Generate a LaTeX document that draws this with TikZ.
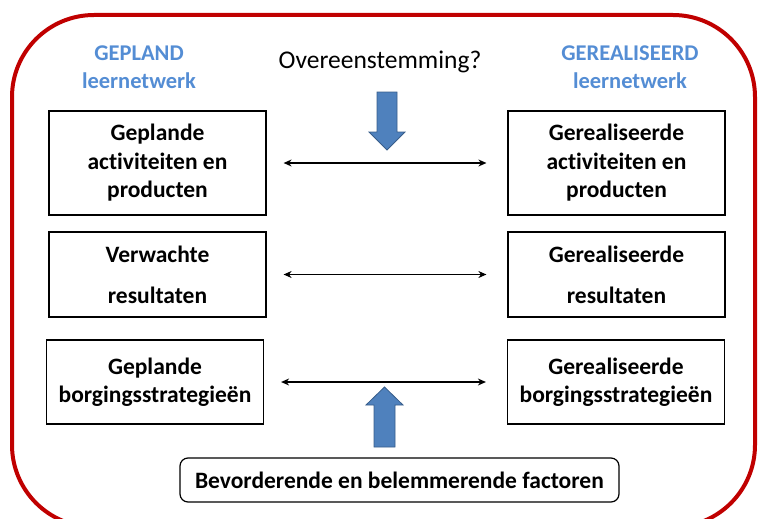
\documentclass[tikz,border=0pt]{standalone}
\usepackage{fontspec}
\setmainfont[Ligatures=NoCommon]{Carlito}
\usetikzlibrary{arrows.meta}
\definecolor{framered}{RGB}{192,0,0}
\definecolor{headblue}{RGB}{84,141,212}
\definecolor{arrowblue}{RGB}{79,129,189}
\definecolor{arrowedge}{RGB}{56,93,138}
\tikzset{
    planbox/.style={draw, line width=1.2pt, minimum width=217pt, align=center,
        font=\fontsize{23.5}{28.5}\selectfont\bfseries, inner sep=0pt},
    headtext/.style={align=center, text=headblue,
        font=\fontsize{22.5}{29}\selectfont\bfseries},
    linkarrow/.style={{Stealth[length=8pt,width=7pt]}-{Stealth[length=8pt,width=7pt]}, line width=1.3pt},
    blockarrow/.style={fill=arrowblue, draw=arrowedge, line width=0.8pt}
}
\begin{document}
\begin{tikzpicture}[x=1pt,y=-1pt]
    \useasboundingbox (0,0) rectangle (760,519);
    % outer frame
    \draw[framered, line width=4pt, rounded corners=82pt] (12,15) rectangle (755,527);

    % headings
    \node[headtext] (plan) at (139,67) {GEPLAND\\[-0.5pt]leernetwerk};
    \node[headtext] (real) at (630,67) {GEREALISEERD\\[-0.5pt]leernetwerk};
    \node[font=\fontsize{25.5}{28}\selectfont] (match) at (380,62) {Overeenstemming?};

    % left column
    \node[planbox, minimum height=104pt] (p1) at (157.5,163) {Geplande\\activiteiten en\\producten};
    \node[planbox, minimum height=85pt] (p2) at (157.5,274.5) {Verwachte\\[12.5pt]resultaten};
    \node[planbox, minimum height=84pt] (p3) at (155,382) {Geplande\\borgingsstrategieën};

    % right column
    \node[planbox, minimum height=104pt] (r1) at (616.5,163) {Gerealiseerde\\activiteiten en\\producten};
    \node[planbox, minimum height=85pt] (r2) at (616.5,274.5) {Gerealiseerde\\[12.5pt]resultaten};
    \node[planbox, minimum height=84pt] (r3) at (616,382) {Gerealiseerde\\borgingsstrategieën};

    % factors
    \node[draw, line width=1.2pt, rounded corners=8pt, minimum width=439pt, minimum height=44pt,
        font=\fontsize{23.5}{26}\selectfont\bfseries, inner sep=0pt] (fact) at (399.5,480)
        {Bevorderende en belemmerende factoren};

    % links
    \draw[linkarrow] ([xshift=17pt]p1.east) -- ([xshift=-21pt]r1.west);
    \draw[linkarrow] ([xshift=17pt]p2.east) -- ([xshift=-21pt]r2.west);
    \draw[linkarrow] ([xshift=17pt]p3.east) -- ([xshift=-21pt]r3.west);

    % block arrows
    \draw[blockarrow] (377,92) -- (397,92) -- (397,132) -- (405,132) -- (387,150)
        -- (369,132) -- (377,132) -- cycle;
    \draw[blockarrow] (374,447) -- (395,447) -- (395,405) -- (403,405) -- (384.5,387)
        -- (366,405) -- (374,405) -- cycle;
\end{tikzpicture}
\end{document}
